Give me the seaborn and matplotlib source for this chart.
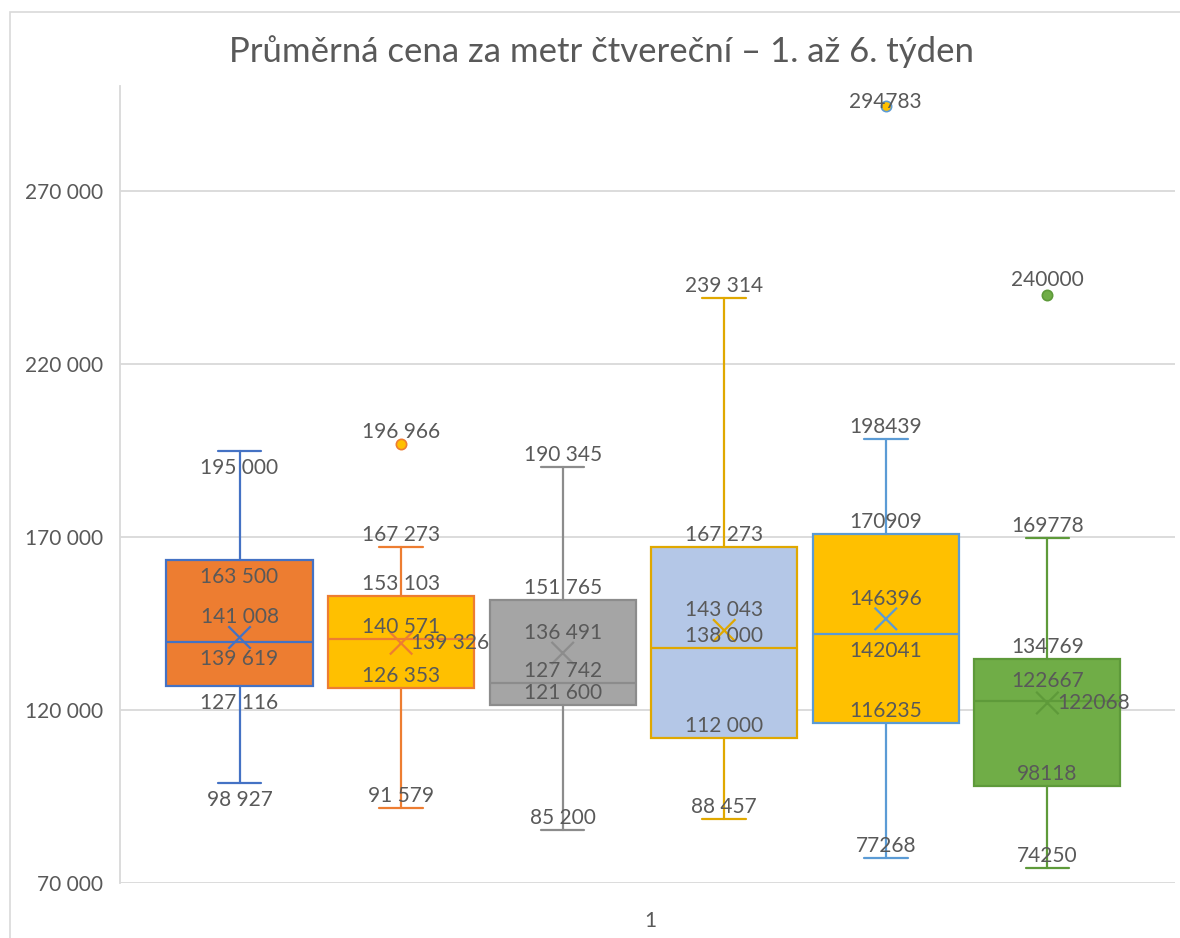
import matplotlib
matplotlib.use("Agg")
import matplotlib.pyplot as plt
import seaborn as sns
import pandas as pd

# Box statistics (weeks 1-6)
weeks = ["1", "2", "3", "4", "5", "6"]
whis_lo = [98927, 91579, 85200, 88457, 77268, 74250]
q1 = [127116, 126353, 121600, 112000, 116235, 98118]
median = [139619, 140571, 127742, 138000, 142041, 122667]
mean = [141008, 139326, 136491, 143043, 146396, 122068]
q3 = [163500, 153103, 151765, 167273, 170909, 134769]
whis_hi = [195000, 167273, 190345, 239314, 198439, 169778]
outliers = [[], [196966], [], [], [294783], [240000]]

# label texts: first four weeks use a space as thousands separator
grouped = [True, True, True, True, False, False]

face_colors = ["#ED7D31", "#FFC000", "#A5A5A5", "#B4C7E7", "#FFC000", "#70AD47"]
line_colors = ["#4472C4", "#ED7D31", "#8C8C8C", "#E0A800", "#5B9BD5", "#5E9A3A"]

# where each label sits relative to its point: u = above, d = below, m = above the mean marker, r = right
label_pos = {
    "whis_hi": ["d", "u", "u", "u", "u", "u"],
    "q3": ["d", "u", "u", "u", "u", "u"],
    "mean": ["m", "r", "m", "m", "m", "r"],
    "median": ["d", "u", "u", "u", "d", "m"],
    "q1": ["d", "u", "u", "u", "u", "u"],
    "whis_lo": ["d", "u", "u", "u", "u", "u"],
}
outlier_dy = {196966: 12, 294783: 4, 240000: 15}

sns.set_theme(style="white")
plt.rcParams["font.family"] = ["Lato", "DejaVu Sans"]

fig = plt.figure(figsize=(11.8, 9.38), dpi=100)
ax = fig.add_axes([120 / 1180, 1 - 883 / 938, 1055 / 1180, (883 - 86) / 938])

stats = []
for i in range(len(weeks)):
    stats.append(dict(med=median[i], q1=q1[i], q3=q3[i], whislo=whis_lo[i],
                      whishi=whis_hi[i], fliers=[], label=weeks[i]))

for i, st in enumerate(stats):
    lc = line_colors[i]
    ax.bxp([st], positions=[i], widths=0.905, capwidths=0.27, patch_artist=True,
           showfliers=False, manage_ticks=False,
           boxprops=dict(facecolor=face_colors[i], edgecolor=lc, linewidth=1.6),
           whiskerprops=dict(color=lc, linewidth=1.6),
           capprops=dict(color=lc, linewidth=1.6),
           medianprops=dict(color=lc, linewidth=1.6))

# means and outliers as seaborn scatter layers
mean_df = pd.DataFrame({"x": range(len(weeks)), "y": mean, "week": weeks})
sns.scatterplot(data=mean_df, x="x", y="y", hue="week", palette=line_colors,
                marker="x", s=260, linewidth=1.6, legend=False, ax=ax, zorder=5)

out_rows = [(i, v) for i, vals in enumerate(outliers) for v in vals]
for i, v in out_rows:
    sns.scatterplot(x=[i], y=[v], color=face_colors[i], edgecolor=line_colors[i],
                    s=55, linewidth=1.2, legend=False, ax=ax, zorder=5)


def fmt(v, g):
    s = f"{v:,}"
    return s.replace(",", " ") if g else s.replace(",", "")


offsets = {"u": (0, 12, "center"), "d": (0, -17, "center"),
           "m": (0, 20, "center"), "r": (10, 0, "left")}
txt_kw = dict(fontsize=15, color="#595959", textcoords="offset pixels", va="center", zorder=6)

for key, vals in [("whis_hi", whis_hi), ("q3", q3), ("mean", mean),
                  ("median", median), ("q1", q1), ("whis_lo", whis_lo)]:
    for i, v in enumerate(vals):
        dx, dy, ha = offsets[label_pos[key][i]]
        ax.annotate(fmt(v, grouped[i]), (i, v), xytext=(dx, dy), ha=ha, **txt_kw)

for i, v in out_rows:
    ax.annotate(fmt(v, grouped[i]), (i, v), xytext=(0, outlier_dy[v]), ha="center", **txt_kw)

ax.set_ylim(70000, 300500)
ax.set_xlim(-0.74, 5.79)
ax.set_yticks([70000, 120000, 170000, 220000, 270000])
ax.set_yticklabels([f"{t:,}".replace(",", " ") for t in ax.get_yticks().astype(int)])
ax.set_xticks([2.54])
ax.set_xticklabels(["1"])
ax.tick_params(axis="both", length=0, labelsize=15, labelcolor="#595959")
ax.tick_params(axis="y", pad=12)
ax.tick_params(axis="x", pad=20)
ax.yaxis.grid(True, color="#D9D9D9", linewidth=1.3)
ax.set_axisbelow(True)
for side in ["top", "right", "bottom"]:
    ax.spines[side].set_visible(False)
ax.spines["left"].set_color("#D9D9D9")
ax.spines["left"].set_linewidth(1.3)
ax.set_xlabel("")
ax.set_ylabel("")

fig.text(602 / 1180, 1 - 52 / 938, "Průměrná cena za metr čtvereční – 1. až 6. týden",
         ha="center", va="center", fontsize=25, color="#595959")

# chart border
fig.add_artist(plt.Rectangle((10 / 1180, -0.1), 1.2, 1 - 12 / 938 + 0.1, transform=fig.transFigure,
                             fill=False, edgecolor="#D9D9D9", linewidth=1.2))

fig.savefig("out.png", dpi=100, facecolor="white")
